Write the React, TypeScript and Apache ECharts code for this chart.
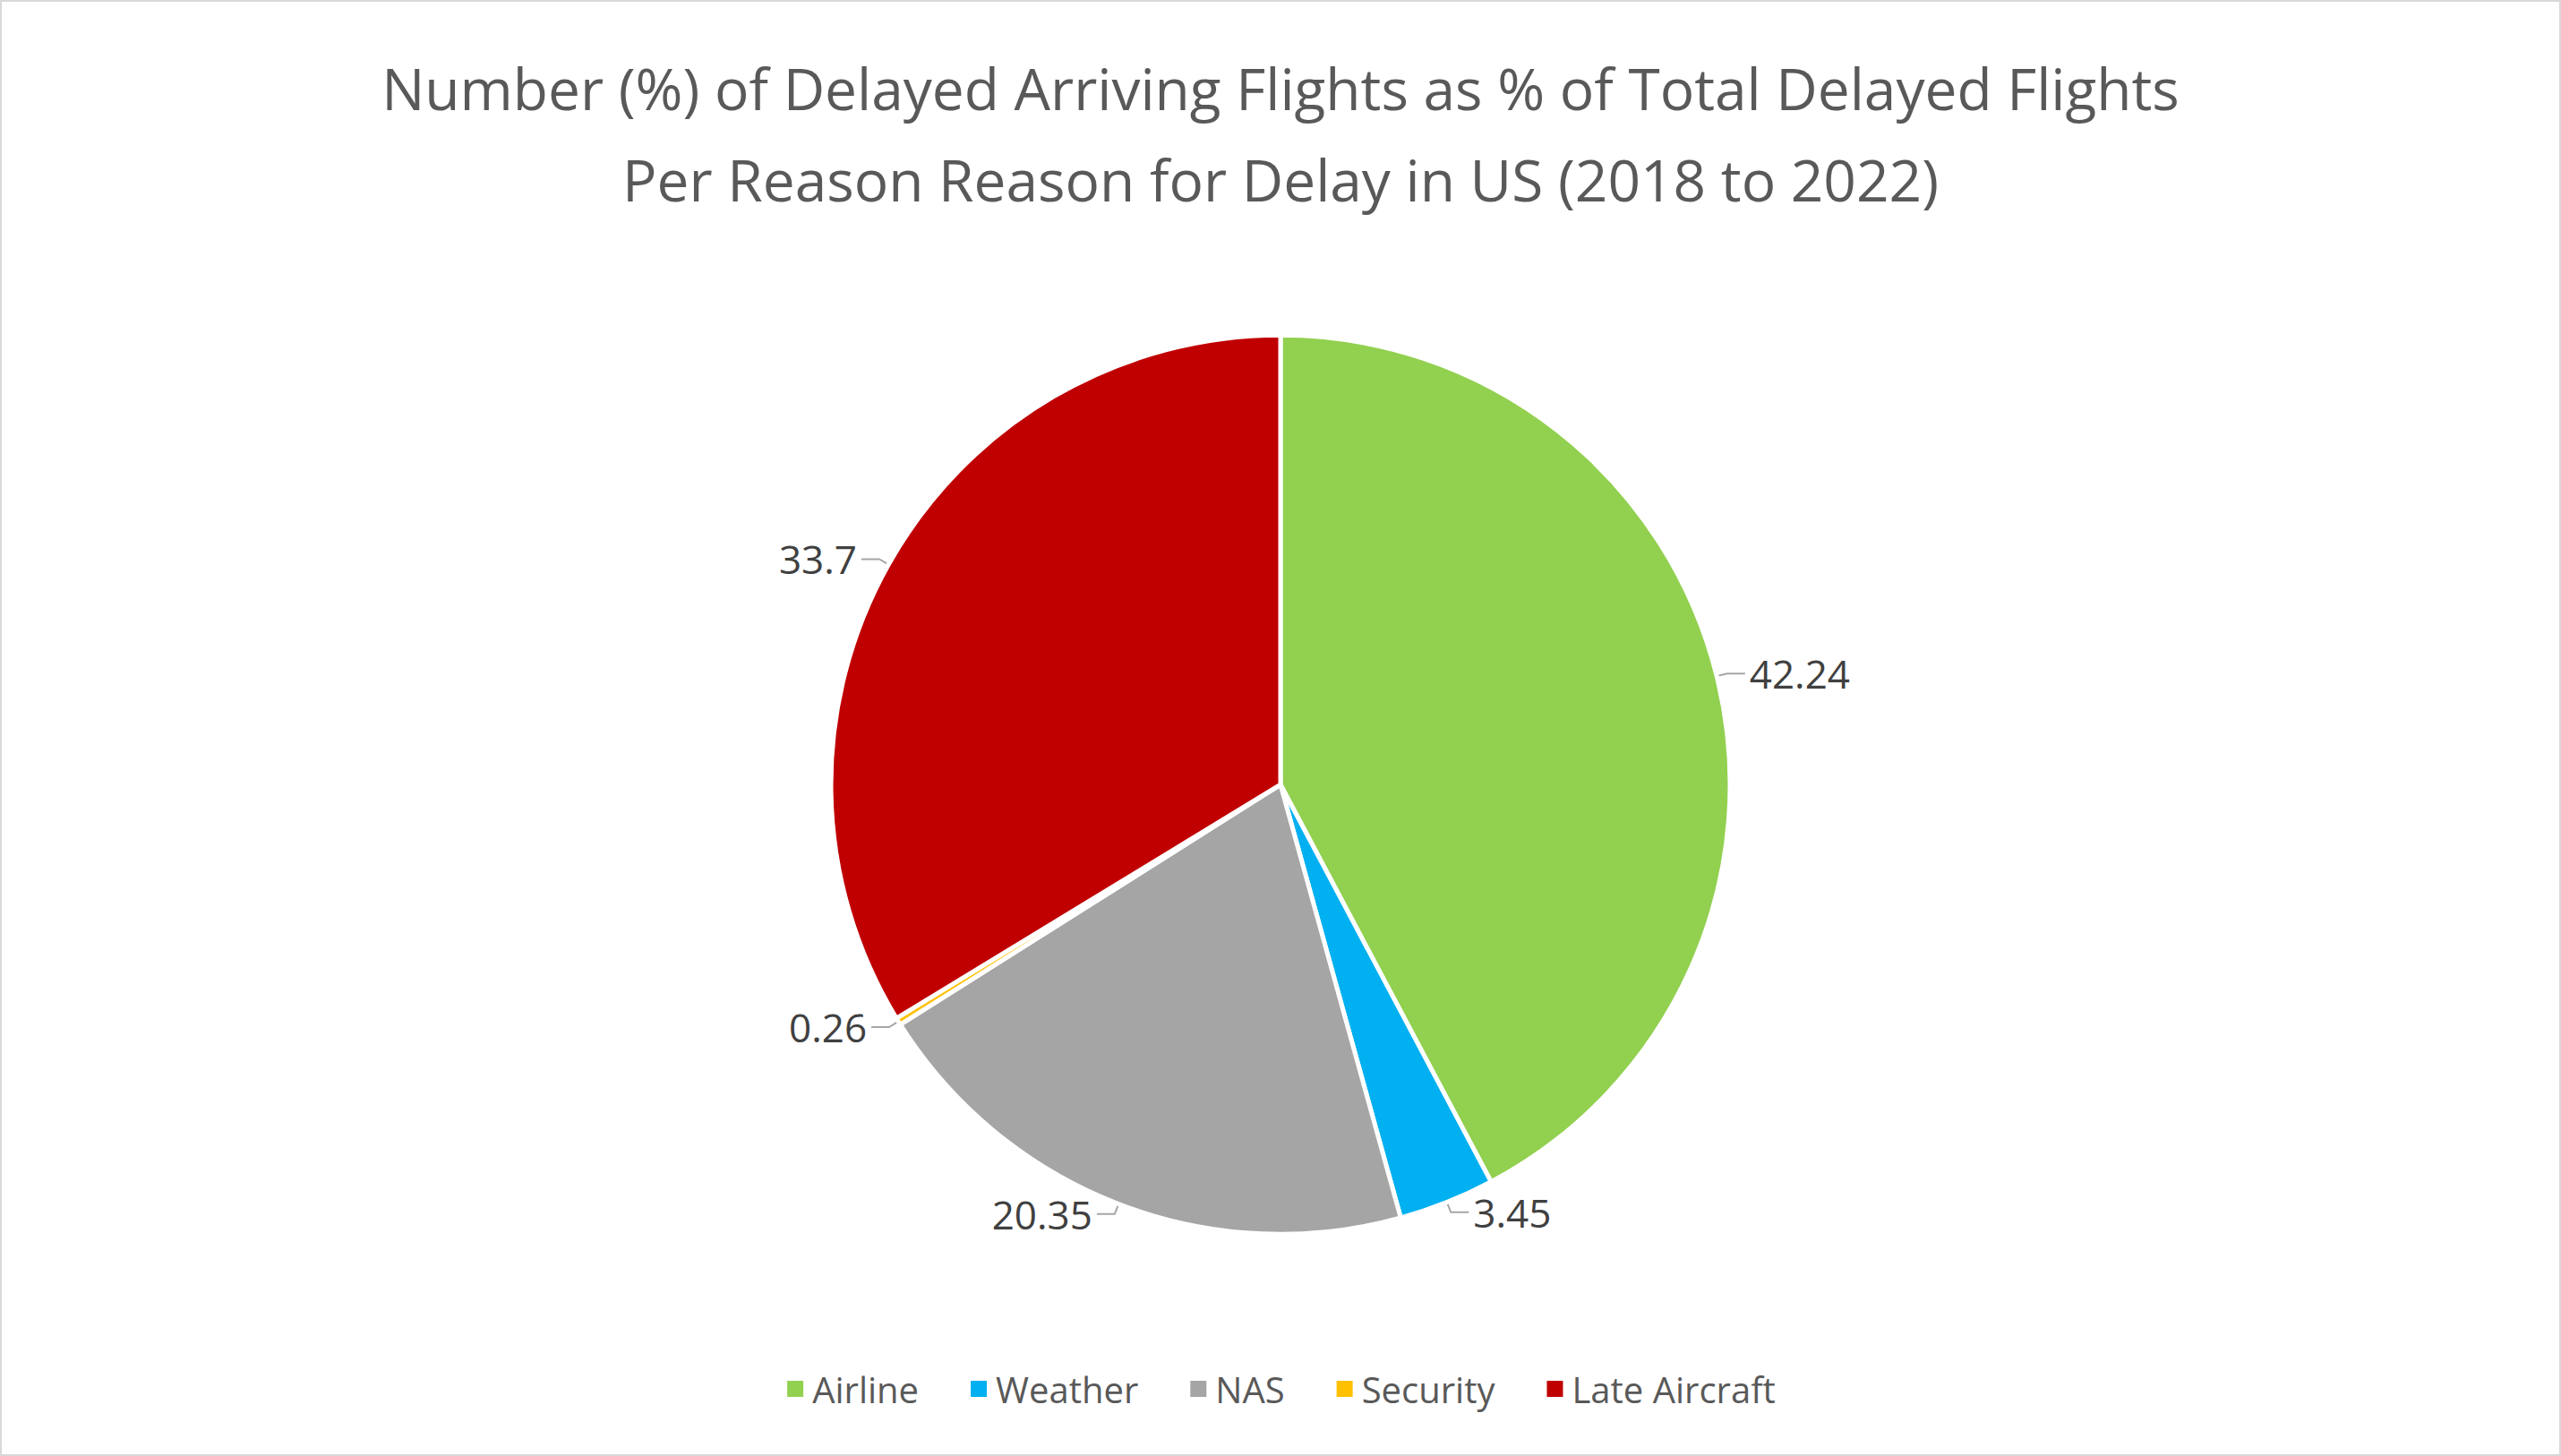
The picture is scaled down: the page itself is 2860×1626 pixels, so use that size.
import { useEffect, useRef } from 'react'
import * as echarts from 'echarts'

const reasons = ['Airline', 'Weather', 'NAS', 'Security', 'Late Aircraft']
const shares = [42.24, 3.45, 20.35, 0.26, 33.7]
const colors = ['#92D050', '#00B0F0', '#A5A5A5', '#FFC000', '#C00000']
const title = 'Number (%) of Delayed Arriving Flights as % of Total Delayed Flights\nPer Reason Reason for Delay in US (2018 to 2022)'

export default function App() {
  const ref = useRef<HTMLDivElement>(null)

  useEffect(() => {
    if (!ref.current) return
    const chart = echarts.init(ref.current, undefined, { renderer: 'svg' })
    chart.setOption({
      animation: false,
      backgroundColor: '#fff',
      textStyle: { fontFamily: 'Open Sans' },
      title: {
        text: title,
        left: 'center',
        top: 40,
        textStyle: { fontSize: 64, fontWeight: 'normal', color: '#595959', lineHeight: 102, fontFamily: 'Open Sans' },
      },
      legend: {
        bottom: 48,
        left: 'center',
        icon: 'rect',
        itemWidth: 20,
        itemHeight: 20,
        itemGap: 56,
        textStyle: { fontSize: 40, color: '#595959', padding: [0, 0, 0, 4] },
        data: reasons,
      },
      series: [
        {
          type: 'pie',
          center: ['50%', '53.9%'],
          radius: 502,
          startAngle: 90,
          clockwise: true,
          color: colors,
          itemStyle: { borderColor: '#fff', borderWidth: 5 },
          label: { fontSize: 44, color: '#404040', formatter: '{c}' },
          labelLine: { show: true, length: 12, length2: 20, lineStyle: { color: '#a6a6a6', width: 2 } },
          data: reasons.map((name, i) => ({ name, value: shares[i] })),
        },
      ],
    })
    return () => chart.dispose()
  }, [])

  return (
    <div
      ref={ref}
      style={{ position: 'absolute', left: 0, top: 0, width: 2860, height: 1626, boxSizing: 'border-box', border: '2px solid #d9d9d9' }}
    />
  )
}
